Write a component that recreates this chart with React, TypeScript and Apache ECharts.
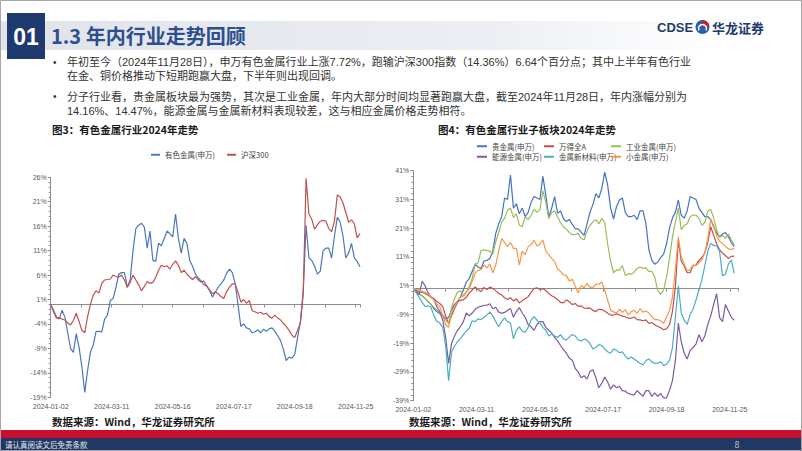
import React, { useEffect, useRef } from 'react';
import * as echarts from 'echarts';

const FONT = '"Noto Sans CJK SC", "Noto Sans", sans-serif';
const NUM_FONT = '"Liberation Sans", Arial, sans-serif';
const BODY_FONT = '"Liberation Sans", "Noto Sans CJK SC", sans-serif';

// x axis: trading-day index; samples every 2 trading days from 2024-01-02 to 2024-11-28
const STEP = 2;
const LABEL_EVERY = 43;
const xTickLabels = ['2024-01-02', '2024-03-11', '2024-05-16', '2024-07-17', '2024-09-18', '2024-11-25'];

// ---- Figure 3 ----
const fig3Names = ['有色金属(申万)', '沪深300'];
const fig3Colors = ['#4a78bd', '#c0504d'];
const nonferrous = [0, -1.2, -2.5, -3, -1.2, -2.6, -5.8, -9, -9.8, -6,
  -8.8, -12.8, -18, -13.5, -9.8, -8.3, -5.5, -5.5, -5.6, -3,
  -2.2, 0.8, 1.2, 3.5, 6.2, 6.5, 6.5, 3.5, 5, 11,
  15.5, 16.2, 16.6, 15.8, 11.5, 15, 9, 8.8, 12.5, 12,
  13.5, 15, 14.5, 13.8, 18.5, 13.5, 10.5, 13.5, 12.5, 9,
  7.8, 6.2, 5.4, 4.8, 4, 3.8, 2.8, 1.5, 2.5, 3.5,
  4.2, 5, 6.4, 7.2, 6.5, 4.3, 0, -4.5, -4, -4.8,
  -5, -5.8, -5.6, -5.2, -5.8, -5.1, -5.5, -5, -4.8, -5.5,
  -6.4, -7.4, -9.2, -11.5, -10.8, -11, -10.2, -6.8, -3.5, 2.8,
  16.2, 9.5, 9, 7.8, 6.2, 6.8, 11, 11.5, 11.5, 9.5,
  14, 17.8, 16.9, 14, 9.5, 10.5, 12.5, 9.5, 8.8, 7.7];
const hs300 = [0, -1.5, -2.8, -2.7, -3, -3.2, -3.8, -4.2, -3.3, -1.8,
  -3.5, -5.3, -5.8, -2.5, 0, 1.9, 2.8, 2.3, 4.3, 5,
  5.1, 5.2, 6, 5.7, 5.6, 6, 5, 3.5, 4.5, 6,
  5, 4, 2.8, 3.7, 4.7, 4.3, 4.5, 5.5, 7, 8,
  7.7, 7.9, 7.2, 8.2, 8.9, 8, 6.5, 7, 6.2, 5.6,
  5.1, 5.7, 5, 4.6, 4.8, 3.7, 3, 2.2, 2.6, 2.2,
  1.6, 1.2, 2.6, 3.5, 4.2, 4.2, 2.5, 0.5, 1, 0.2,
  0.8, -1.3, -1.5, -1.8, -1.6, -2, -1.8, -2.5, -2.8, -2.2,
  -2.8, -3.2, -3.9, -4.5, -5.3, -6.3, -6.8, -5.3, -3.8, 2.2,
  25.8, 18.5, 17.4, 15.4, 16.3, 17, 17.2, 17, 15.5, 14.9,
  17, 22.4, 22, 20.8, 18.8, 16.8, 17.3, 16.5, 13.6, 14.5];
const fig3YTicks = { min: -19, max: 26, interval: 5 };

// ---- Figure 4 ----
const fig4Names = ['贵金属(申万)', '万得全A', '工业金属(申万)', '能源金属(申万)', '金属新材料(申万)', '小金属(申万)'];
const fig4Colors = ['#4472c4', '#c0504d', '#9bbb59', '#7b5aa6', '#4bacc6', '#f79646'];
const preciousMetals = [0, -1, -2, -2.5, -3.5, -4.5, -5.5, -7, -8, -8.8,
  -9.2, -10.5, -10, -7.5, -5.5, -4.5, -3, -0.5, 2.2, 3.5,
  6, 8.5, 7.5, 7, 9.6, 9.8, 10.5, 13, 19.2, 22.5,
  25, 31.5, 31, 39.5, 28, 29.5, 26, 28, 25, 26.5,
  30, 32, 31.5, 31, 39, 32.5, 25, 28, 32, 26.2,
  27, 24.3, 23.3, 24, 22.3, 20.8, 20.8, 19.6, 18.5, 22.5,
  26.5, 29.3, 33, 31.5, 34.8, 40.5, 36, 28, 24.2, 28.5,
  30.8, 31.5, 26.5, 25, 25, 25.5, 24, 27, 27, 22.5,
  13.5, 9.9, 8.5, 9.2, 10.8, 12, 15.5, 21, 24.5, 26.5,
  30.8, 25.5, 24.5, 27, 32, 31.5, 31, 28, 26.5, 25,
  25, 24, 21.5, 19.3, 18, 19, 19.5, 18, 16, 14.6];
const windA = [0, -0.5, -1.1, -1.3, -1.7, -2.3, -2.9, -3.5, -4.5, -5.2,
  -6.3, -9.5, -12.2, -9.5, -7, -4.8, -4.1, -3.9, -3, -1.5,
  -0.5, 0.6, -0.3, -1.1, 0.4, -0.3, 0.5, 0, -0.8, -1.7,
  -2.2, -3.2, -3.8, -3.2, -4.3, -3.6, -5, -4.2, -3.5, -2.8,
  -1.3, 0, 0.3, -0.3, 0, -0.7, -1.7, -2.5, -3, -3.8,
  -4.8, -5, -3.9, -4.6, -5.6, -5.2, -6.2, -6, -6.8, -6.9,
  -6.7, -7.6, -8, -7.2, -7.3, -7.8, -8.6, -9.2, -9.2, -8.8,
  -9.2, -9.6, -9.8, -10.3, -10.3, -9.9, -10.8, -10.9, -11.2, -10.9,
  -12.1, -11.8, -12.6, -13.2, -13.6, -14.3, -14, -12.5, -8, 0.5,
  17, 9.5, 7.8, 5.5, 5.5, 8, 8.2, 9.8, 10.8, 12.5,
  16, 21.5, 18.5, 15.6, 13.5, 12.4, 11.5, 10.5, 11.2, 11.3];
const industrialMetals = [0, -1, -1.8, -2.5, -3.4, -4.5, -5.5, -6.5, -7.5, -8.3,
  -9.5, -11, -12, -6.5, -3.5, -1.2, -0.8, -2.5, -1.2, 0.8,
  3.5, 8.5, 9, 13.2, 13.5, 13.3, 13, 12, 16.3, 19.5,
  23, 24.5, 27.3, 28, 24.8, 26, 22.1, 21.5, 25, 24,
  25.5, 27.6, 26.5, 27.5, 34, 30, 24.4, 26.5, 27, 25,
  22.9, 21.5, 20.6, 19.5, 18.8, 18.8, 19.2, 17.4, 17, 20,
  22, 23.2, 24, 22.5, 24.4, 23, 15.5, 9.5, 5.5, 6.5,
  6.4, 8, 4.5, 5.2, 5, 5.7, 7, 7.5, 7, 7.2,
  6, 6, 4, -0.7, -2, -0.5, 4, 10.5, 18, 23,
  28, 20.5, 22, 22.5, 25, 25.6, 25.5, 24.5, 22, 23,
  27, 27.5, 24.5, 20.5, 17.8, 18.5, 17.5, 19, 17, 15.1];
const energyMetals = [0, -1, -2, 2.5, 1, -1.5, -3, -3.8, -6.3, -8,
  -11, -17, -26, -19, -16.5, -14.5, -13.2, -11.5, -8.5, -9.5,
  -8.5, -7.2, -6.5, -6.2, -5.8, -5.8, -5.3, -7, -6.5, -8.2,
  -8.6, -8.3, -7.6, -6.9, -10, -8, -6.6, -8.5, -10, -12.5,
  -13.3, -14.5, -12.5, -11.5, -11.5, -13.5, -14.5, -15.5, -17, -18.2,
  -19.8, -21.2, -22.5, -24.2, -24.9, -27.8, -29, -31, -30.3, -31.5,
  -28.8, -28.2, -31, -34.5, -33, -30.8, -32.5, -35, -33.5, -34.5,
  -34, -35.5, -35.7, -36.5, -36.8, -37, -35.5, -36.5, -37.5, -35.5,
  -35.5, -37.5, -36.3, -37.5, -36.5, -38, -38, -35.5, -32, -25,
  -12, -18.5, -22.5, -24.5, -21.5, -20.5, -19.3, -16, -18.5, -16.5,
  -12.5, -9.5, -5.5, -1.8, -10, -11.5, -5.5, -7.8, -10, -11];
const newMaterials = [0, -1.5, -3, -4.8, -6.2, -6, -6.5, -9.5, -11.4, -12,
  -13.5, -20, -32, -22, -20, -18.5, -17.3, -16, -14.8, -13.8,
  -11.2, -11.5, -10.5, -10.8, -10, -9.2, -8.2, -9.5, -11.5, -13.3,
  -11.5, -10.2, -11.5, -12, -17.5, -14.5, -13.3, -14.8, -15.2, -13.5,
  -11, -9.8, -11, -12, -13.5, -14.5, -16.5, -15.8, -16.5, -17,
  -16, -17.5, -17.9, -16.8, -16, -16.5, -17.8, -18.2, -17.6, -17.9,
  -19.2, -21, -20.5, -19.5, -19.8, -21, -22, -22.5, -21, -21.5,
  -22.3, -22, -23.5, -24.5, -23.8, -24.5, -25.3, -26, -26.6, -25,
  -24.5, -25.5, -26, -26, -25.5, -26.8, -26.2, -25, -20.5, -10,
  1, -8.5, -11, -12.5, -9, -7.2, -4, -0.5, 3, 8,
  13, 15.8, 15, 14.8, 13, 4.5, 5, 8.5, 9.9, 5.3];
const minorMetals = [0, -0.3, -0.5, -1, -1.3, -2, -2.8, -4, -5.4, -6.3,
  -9.5, -12.5, -13.5, -8.5, -6.5, -4.2, -3.1, -2.6, -1.2, 0,
  2.5, 5.2, 6.4, 6.6, 8.2, 7.2, 8.6, 5.5, 8.2, 13,
  17.5, 16, 14.6, 16, 14, 14, 8.2, 13, 11.8, 14.5,
  15.3, 16.8, 14.8, 15.5, 16.9, 13, 11.8, 10.5, 9.3, 6.8,
  6, 4.8, 4.5, 2.6, 3.2, 0.8, -1.5, 1, 0.3, 1.8,
  0.5, 0.3, 1.5, 1.5, 2.3, -0.5, -4, -7.5, -8.1, -8.5,
  -7.2, -8.3, -7.3, -9.2, -8, -7.6, -8.6, -7, -8.2, -7.8,
  -8.5, -9.8, -10.8, -10.8, -11.3, -12.1, -9.8, -7.8, -3, 6.5,
  18, 11, 8.5, 6.2, 6.5, 8.2, 8, 9, 10, 12.5,
  17.5, 24, 22, 18.3, 16.5, 15.7, 14.7, 13.8, 13.6, 14];
const fig4Series = [preciousMetals, windA, industrialMetals, energyMetals, newMaterials, minorMetals];
const fig4YTicks = { min: -39, max: 41, interval: 10 };

const bullet1 = [
  '年初至今（2024年11月28日），申万有色金属行业上涨7.72%，跑输沪深300指数（14.36%）6.64个百分点；其中上半年有色行业',
  '在金、铜价格推动下短期跑赢大盘，下半年则出现回调。',
];
const bullet2 = [
  '分子行业看，贵金属板块最为强势，其次是工业金属，年内大部分时间均显著跑赢大盘，截至2024年11月28日，年内涨幅分别为',
  '14.16%、14.47%，能源金属与金属新材料表现较差，这与相应金属价格走势相符。',
];

const toPairs = (arr: number[]) => arr.map((v, k) => [k * STEP, v]);

const AXIS_GRAY = '#8c8c8c';

function yAxisCfg(gridIndex: number, t: { min: number; max: number; interval: number }) {
  return {
    type: 'value', gridIndex, min: t.min, max: t.max, interval: t.interval,
    axisLine: { show: true, onZero: false, lineStyle: { color: AXIS_GRAY, width: 1 } },
    axisTick: { show: true, length: 3, lineStyle: { color: AXIS_GRAY } },
    minorTick: { show: true, splitNumber: 5, length: 2, lineStyle: { color: AXIS_GRAY } },
    splitLine: { show: false }, minorSplitLine: { show: false },
    axisLabel: { fontSize: 7, lineHeight: 8, color: '#595959', fontFamily: NUM_FONT, margin: 4, formatter: '{value}%' },
  };
}
function xLabelAxis(gridIndex: number, max: number, margin: number) {
  return {
    type: 'value', gridIndex, min: 0, max, interval: LABEL_EVERY, position: 'bottom',
    axisLine: { show: false, onZero: false }, axisTick: { show: false }, splitLine: { show: false },
    axisLabel: {
      fontSize: 7, color: '#595959', fontFamily: NUM_FONT, margin, hideOverlap: false, lineHeight: 8,
      formatter: (v: number) => (v % LABEL_EVERY === 0 && xTickLabels[v / LABEL_EVERY]) || '',
    },
  };
}
function xZeroAxis(gridIndex: number, max: number) {
  return {
    type: 'value', gridIndex, min: 0, max, interval: LABEL_EVERY / 2, position: 'bottom',
    axisLine: { show: true, onZero: true, lineStyle: { color: AXIS_GRAY, width: 1 } },
    axisTick: { show: true, length: 3, lineStyle: { color: AXIS_GRAY } },
    axisLabel: { show: false }, splitLine: { show: false },
  };
}

const txt = (x: number, y: number, text: string, font: string, fill: string, align = 'left') => ({
  type: 'text', x, y, silent: true,
  style: { text, font, fill, textAlign: align, align, textVerticalAlign: 'middle', verticalAlign: 'middle' },
});

export default function App() {
  const ref = useRef<HTMLDivElement>(null);
  useEffect(() => {
    document.body.style.margin = '0';
    const chart = echarts.init(ref.current!, undefined, { renderer: 'svg' });

    const legendText = { fontSize: 7.5, color: '#404040', fontFamily: FONT };
    const fig4LegendPos = [
      [472, 137.5], [539, 137.5], [606, 137.5],
      [472, 148], [539, 148], [606, 148],
    ];

    const graphic: any[] = [
      { type: 'rect', silent: true, shape: { x: 0, y: 21, width: 802, height: 29 },
        style: { fill: new echarts.graphic.LinearGradient(0, 0, 1, 0, [
          { offset: 0, color: '#e0e3ea' }, { offset: 0.6, color: '#eceef3' }, { offset: 0.9, color: '#ffffff' }]) } },
      { type: 'rect', silent: true, shape: { x: 7, y: 13, width: 38, height: 46 }, style: { fill: '#1f3a6e' } },
      txt(26, 36.5, '01', `bold 23px ${NUM_FONT}`, '#ffffff', 'center'),
      txt(51, 35.5, '1.3 年内行业走势回顾', `bold 20px ${FONT}`, '#2c4f8e'),
      txt(657, 27.5, 'CDSE', `bold 13px ${NUM_FONT}`, '#1f3a6e'),
      { type: 'circle', silent: true, shape: { cx: 702.5, cy: 27, r: 7 }, style: { fill: '#2b5fad' } },
      { type: 'sector', silent: true, shape: { cx: 702.5, cy: 27, r: 7, r0: 0, startAngle: -Math.PI * 0.5, endAngle: -Math.PI * 0.05 }, style: { fill: '#d0202e' } },
      { type: 'arc', silent: true, shape: { cx: 702.5, cy: 28.5, r: 4, startAngle: Math.PI * 0.85, endAngle: Math.PI * 2.15 }, style: { stroke: '#ffffff', lineWidth: 1.5, fill: 'none' } },
      txt(712, 27.5, '华龙证券', `bold 13px ${FONT}`, '#1f3a6e'),
      txt(53, 62.3, '•', `10px ${BODY_FONT}`, '#333333'),
      txt(67, 62.3, bullet1[0], `11px ${BODY_FONT}`, '#333333'),
      txt(67, 76, bullet1[1], `11px ${BODY_FONT}`, '#333333'),
      txt(53, 96.7, '•', `10px ${BODY_FONT}`, '#333333'),
      txt(67, 96.7, bullet2[0], `11px ${BODY_FONT}`, '#333333'),
      txt(67, 110.5, bullet2[1], `11px ${BODY_FONT}`, '#333333'),
      txt(52, 129.5, '图3：有色金属行业2024年走势', `bold 10.5px ${FONT}`, '#1a1a1a'),
      txt(438, 129.5, '图4：有色金属行业子板块2024年走势', `bold 10.5px ${FONT}`, '#1a1a1a'),
      txt(52, 421, '数据来源：Wind，华龙证券研究所', `bold 10.5px ${FONT}`, '#1a1a1a'),
      txt(409, 421, '数据来源：Wind，华龙证券研究所', `bold 10.5px ${FONT}`, '#1a1a1a'),
      { type: 'rect', silent: true, shape: { x: 0, y: 430, width: 802, height: 8 }, style: { fill: '#c8102e' } },
      { type: 'rect', silent: true, shape: { x: 0, y: 438, width: 802, height: 13 }, style: { fill: '#1f3864' } },
      txt(5, 444.5, '请认真阅读文后免责条款', `7.5px ${FONT}`, '#e8ecf4'),
      txt(737, 444.5, '8', `9px ${FONT}`, '#bfbfbf', 'center'),
      { type: 'rect', silent: true, shape: { x: 0.5, y: 0.5, width: 801, height: 450 }, style: { fill: 'none', stroke: '#a6a6a6', lineWidth: 1 } },
    ];

    const option: any = {
      animation: false,
      backgroundColor: '#ffffff',
      textStyle: { fontFamily: FONT },
      grid: [
        { left: 50.7, top: 177.3, width: 309.3, height: 220, containLabel: false, outerBoundsMode: 'none' },
        { left: 413.3, top: 170.7, width: 325.4, height: 230, containLabel: false, outerBoundsMode: 'none' },
      ],
      legend: [
        { left: 146, top: 146, itemWidth: 9, itemHeight: 2, icon: 'rect', itemGap: 12, textStyle: legendText, data: fig3Names },
        ...fig4Names.map((n, k) => ({
          left: fig4LegendPos[k][0], top: fig4LegendPos[k][1], itemWidth: 10, itemHeight: 2, icon: 'rect',
          textStyle: legendText, data: [n],
        })),
      ],
      xAxis: [xLabelAxis(0, 218, 5), xZeroAxis(0, 218), xLabelAxis(1, 221, 4.5), xZeroAxis(1, 221)],
      yAxis: [yAxisCfg(0, fig3YTicks), yAxisCfg(1, fig4YTicks)],
      series: [
        ...[nonferrous, hs300].map((arr, k) => ({
          name: fig3Names[k], type: 'line', xAxisIndex: 0, yAxisIndex: 0, data: toPairs(arr),
          showSymbol: false, symbol: 'none', color: fig3Colors[k], lineStyle: { width: 1.2, color: fig3Colors[k] },
        })),
        ...fig4Series.map((arr, k) => ({
          name: fig4Names[k], type: 'line', xAxisIndex: 2, yAxisIndex: 1, data: toPairs(arr),
          showSymbol: false, symbol: 'none', color: fig4Colors[k], lineStyle: { width: 1.2, color: fig4Colors[k] },
        })),
      ],
      graphic,
    };
    chart.setOption(option);
    return () => chart.dispose();
  }, []);
  return <div ref={ref} style={{ width: 802, height: 451 }} />;
}
